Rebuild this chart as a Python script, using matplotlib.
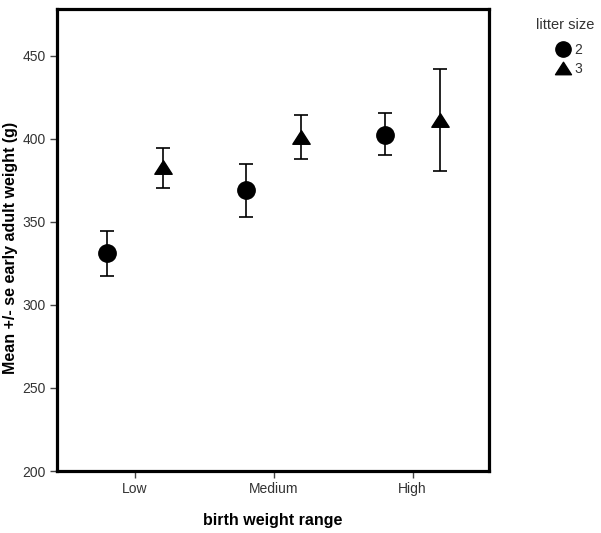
import numpy as np
import matplotlib.pyplot as plt
from matplotlib.lines import Line2D
from matplotlib.path import Path

plt.rcParams['font.family'] = ['Liberation Sans', 'DejaVu Sans']

categories = ['Low', 'Medium', 'High']
groups = ['2', '3']

# mean and +/- se bounds
mean_2 = [331, 369, 402.5]
low_2 = [317.5, 353, 390]
high_2 = [344.5, 385, 415.5]

mean_3 = [383, 401, 411.5]
low_3 = [370.5, 388, 380.5]
high_3 = [394.5, 414, 442]

x = np.arange(len(categories))
dodge = 0.2

# SPSS style triangle: a bit wider than tall
tri = Path([(-1, -0.78), (1, -0.78), (0, 0.78), (-1, -0.78)],
           [Path.MOVETO, Path.LINETO, Path.LINETO, Path.CLOSEPOLY])

fig = plt.figure(figsize=(6.01, 5.33), dpi=100)
ax = fig.add_axes([0.0948, 0.1163, 0.7188, 0.8667])

for off, m, lo, hi, mk in [(-dodge, mean_2, low_2, high_2, 'o'),
                          (dodge, mean_3, low_3, high_3, tri)]:
    m = np.array(m)
    err = [m - np.array(lo), np.array(hi) - m]
    ax.errorbar(x + off, m, yerr=err, fmt='none', ecolor='black',
                elinewidth=1.2, capsize=4.8, capthick=1.2)
    ax.plot(x + off, m, ls='none', marker=mk, color='black', ms=12.5)

ax.set_xlim(-0.56, 2.55)
ax.set_ylim(200, 478)
ax.set_xticks(x)
ax.set_xticklabels(categories)
ax.set_yticks([200, 250, 300, 350, 400, 450])

for s in ax.spines.values():
    s.set_linewidth(2.3)
ax.tick_params(direction='out', length=5, width=1, color='#444444',
               labelcolor='#333333', labelsize=10, pad=3)

ax.set_xlabel('birth weight range', fontsize=11.5, fontweight='bold',
              labelpad=12)
ax.set_ylabel('Mean +/- se early adult weight (g)', fontsize=11.5,
              fontweight='bold')
ax.yaxis.set_label_coords(-0.09, 0.483)

# legend: title as separate text, entries below it
fig.text(565 / 601, 1 - 25 / 533, 'litter size', ha='center', va='center',
         fontsize=10.5, color='#333333')
handles = [Line2D([], [], marker='o', color='black', ls='none', ms=11),
           Line2D([], [], marker=tri, color='black', ls='none', ms=11.5)]
leg = fig.legend(handles, groups, frameon=False,
                 loc='upper left', bbox_to_anchor=(557 / 601, 1 - 43 / 533),
                 fontsize=10, handlelength=0.9, handletextpad=0.35,
                 labelspacing=0.35, borderpad=0, borderaxespad=0)
for t in leg.get_texts():
    t.set_color('#333333')

fig.savefig('out.png', dpi=100)
